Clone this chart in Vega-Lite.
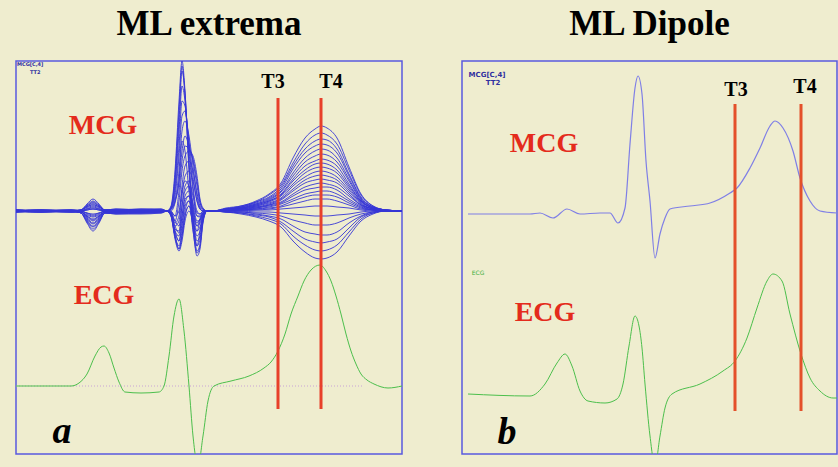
{
"$schema": "https://vega.github.io/schema/vega-lite/v6.json",
"background": "#efedcf",
"padding": {"left": 14, "top": 6, "right": 1, "bottom": 14},
"spacing": 58,
"config": {"view": {"stroke": "#5a5ae0", "strokeWidth": 1.5, "fill": "#efedcf"}},
"datasets": {
"mcgA": [
{"c":1,"x":0,"v":0},{"c":1,"x":25,"v":1},{"c":1,"x":55,"v":0},{"c":1,"x":65,"v":1},{"c":1,"x":71,"v":5},{"c":1,"x":77,"v":8},{"c":1,"x":83,"v":5},{"c":1,"x":89,"v":1},{"c":1,"x":100,"v":2},{"c":1,"x":125,"v":1},{"c":1,"x":145,"v":0},{"c":1,"x":151,"v":0},{"c":1,"x":155,"v":5},{"c":1,"x":159,"v":40},{"c":1,"x":163,"v":110},{"c":1,"x":166,"v":150},{"c":1,"x":169,"v":120},{"c":1,"x":173,"v":40},{"c":1,"x":177,"v":-10},{"c":1,"x":181,"v":-20},{"c":1,"x":184,"v":-10},{"c":1,"x":187,"v":-3},{"c":1,"x":191,"v":0},{"c":1,"x":197,"v":0},{"c":1,"x":210,"v":3},{"c":1,"x":225,"v":5},{"c":1,"x":240,"v":10},{"c":1,"x":253,"v":17},{"c":1,"x":265,"v":28},{"c":1,"x":277,"v":53},{"c":1,"x":289,"v":73},{"c":1,"x":299,"v":82},{"c":1,"x":305,"v":85},{"c":1,"x":311,"v":83},{"c":1,"x":321,"v":73},{"c":1,"x":333,"v":44},{"c":1,"x":345,"v":17},{"c":1,"x":357,"v":5},{"c":1,"x":370,"v":1},{"c":1,"x":386,"v":0},
{"c":2,"x":0,"v":1},{"c":2,"x":25,"v":0},{"c":2,"x":55,"v":-1},{"c":2,"x":65,"v":1},{"c":2,"x":71,"v":7},{"c":2,"x":77,"v":12},{"c":2,"x":83,"v":7},{"c":2,"x":89,"v":1},{"c":2,"x":100,"v":1},{"c":2,"x":125,"v":2},{"c":2,"x":145,"v":1},{"c":2,"x":151,"v":0},{"c":2,"x":155,"v":4},{"c":2,"x":159,"v":35},{"c":2,"x":163,"v":100},{"c":2,"x":166,"v":145},{"c":2,"x":169,"v":115},{"c":2,"x":173,"v":45},{"c":2,"x":177,"v":0},{"c":2,"x":181,"v":-15},{"c":2,"x":184,"v":-8},{"c":2,"x":187,"v":-2},{"c":2,"x":191,"v":0},{"c":2,"x":197,"v":0},{"c":2,"x":210,"v":2},{"c":2,"x":225,"v":4},{"c":2,"x":240,"v":9},{"c":2,"x":253,"v":14},{"c":2,"x":265,"v":24},{"c":2,"x":277,"v":45},{"c":2,"x":289,"v":62},{"c":2,"x":299,"v":70},{"c":2,"x":305,"v":72},{"c":2,"x":311,"v":71},{"c":2,"x":321,"v":62},{"c":2,"x":333,"v":37},{"c":2,"x":345,"v":14},{"c":2,"x":357,"v":4},{"c":2,"x":370,"v":1},{"c":2,"x":386,"v":0},
{"c":3,"x":0,"v":-1},{"c":3,"x":25,"v":0},{"c":3,"x":55,"v":1},{"c":3,"x":65,"v":0},{"c":3,"x":71,"v":3},{"c":3,"x":77,"v":5},{"c":3,"x":83,"v":3},{"c":3,"x":89,"v":0},{"c":3,"x":100,"v":0},{"c":3,"x":125,"v":1},{"c":3,"x":145,"v":2},{"c":3,"x":151,"v":0},{"c":3,"x":155,"v":3},{"c":3,"x":159,"v":25},{"c":3,"x":163,"v":80},{"c":3,"x":166,"v":125},{"c":3,"x":169,"v":110},{"c":3,"x":173,"v":60},{"c":3,"x":177,"v":20},{"c":3,"x":181,"v":-5},{"c":3,"x":184,"v":-5},{"c":3,"x":187,"v":0},{"c":3,"x":191,"v":0},{"c":3,"x":197,"v":0},{"c":3,"x":210,"v":2},{"c":3,"x":225,"v":4},{"c":3,"x":240,"v":7},{"c":3,"x":253,"v":12},{"c":3,"x":265,"v":20},{"c":3,"x":277,"v":38},{"c":3,"x":289,"v":53},{"c":3,"x":299,"v":60},{"c":3,"x":305,"v":62},{"c":3,"x":311,"v":61},{"c":3,"x":321,"v":53},{"c":3,"x":333,"v":32},{"c":3,"x":345,"v":12},{"c":3,"x":357,"v":4},{"c":3,"x":370,"v":1},{"c":3,"x":386,"v":0},
{"c":4,"x":0,"v":0},{"c":4,"x":25,"v":-1},{"c":4,"x":55,"v":0},{"c":4,"x":65,"v":0},{"c":4,"x":71,"v":-3},{"c":4,"x":77,"v":-5},{"c":4,"x":83,"v":-3},{"c":4,"x":89,"v":0},{"c":4,"x":100,"v":-1},{"c":4,"x":125,"v":0},{"c":4,"x":145,"v":1},{"c":4,"x":151,"v":0},{"c":4,"x":155,"v":2},{"c":4,"x":159,"v":15},{"c":4,"x":163,"v":55},{"c":4,"x":166,"v":95},{"c":4,"x":169,"v":100},{"c":4,"x":173,"v":70},{"c":4,"x":177,"v":35},{"c":4,"x":181,"v":10},{"c":4,"x":184,"v":2},{"c":4,"x":187,"v":0},{"c":4,"x":191,"v":0},{"c":4,"x":197,"v":0},{"c":4,"x":210,"v":2},{"c":4,"x":225,"v":3},{"c":4,"x":240,"v":6},{"c":4,"x":253,"v":10},{"c":4,"x":265,"v":17},{"c":4,"x":277,"v":32},{"c":4,"x":289,"v":45},{"c":4,"x":299,"v":50},{"c":4,"x":305,"v":52},{"c":4,"x":311,"v":51},{"c":4,"x":321,"v":45},{"c":4,"x":333,"v":27},{"c":4,"x":345,"v":10},{"c":4,"x":357,"v":3},{"c":4,"x":370,"v":1},{"c":4,"x":386,"v":0},
{"c":5,"x":0,"v":1},{"c":5,"x":25,"v":1},{"c":5,"x":55,"v":0},{"c":5,"x":65,"v":1},{"c":5,"x":71,"v":6},{"c":5,"x":77,"v":10},{"c":5,"x":83,"v":6},{"c":5,"x":89,"v":1},{"c":5,"x":100,"v":1},{"c":5,"x":125,"v":2},{"c":5,"x":145,"v":2},{"c":5,"x":151,"v":0},{"c":5,"x":155,"v":0},{"c":5,"x":159,"v":8},{"c":5,"x":163,"v":30},{"c":5,"x":166,"v":60},{"c":5,"x":169,"v":75},{"c":5,"x":173,"v":65},{"c":5,"x":177,"v":50},{"c":5,"x":181,"v":25},{"c":5,"x":184,"v":8},{"c":5,"x":187,"v":2},{"c":5,"x":191,"v":0},{"c":5,"x":197,"v":0},{"c":5,"x":210,"v":1},{"c":5,"x":225,"v":3},{"c":5,"x":240,"v":5},{"c":5,"x":253,"v":9},{"c":5,"x":265,"v":15},{"c":5,"x":277,"v":27},{"c":5,"x":289,"v":38},{"c":5,"x":299,"v":43},{"c":5,"x":305,"v":44},{"c":5,"x":311,"v":43},{"c":5,"x":321,"v":38},{"c":5,"x":333,"v":23},{"c":5,"x":345,"v":9},{"c":5,"x":357,"v":3},{"c":5,"x":370,"v":0},{"c":5,"x":386,"v":0},
{"c":6,"x":0,"v":-1},{"c":6,"x":25,"v":0},{"c":6,"x":55,"v":-1},{"c":6,"x":65,"v":-1},{"c":6,"x":71,"v":-6},{"c":6,"x":77,"v":-10},{"c":6,"x":83,"v":-6},{"c":6,"x":89,"v":-1},{"c":6,"x":100,"v":-2},{"c":6,"x":125,"v":-1},{"c":6,"x":145,"v":0},{"c":6,"x":151,"v":0},{"c":6,"x":155,"v":-2},{"c":6,"x":159,"v":-10},{"c":6,"x":163,"v":10},{"c":6,"x":166,"v":40},{"c":6,"x":169,"v":55},{"c":6,"x":173,"v":60},{"c":6,"x":177,"v":55},{"c":6,"x":181,"v":35},{"c":6,"x":184,"v":12},{"c":6,"x":187,"v":3},{"c":6,"x":191,"v":0},{"c":6,"x":197,"v":0},{"c":6,"x":210,"v":1},{"c":6,"x":225,"v":2},{"c":6,"x":240,"v":4},{"c":6,"x":253,"v":7},{"c":6,"x":265,"v":12},{"c":6,"x":277,"v":22},{"c":6,"x":289,"v":31},{"c":6,"x":299,"v":35},{"c":6,"x":305,"v":36},{"c":6,"x":311,"v":35},{"c":6,"x":321,"v":31},{"c":6,"x":333,"v":19},{"c":6,"x":345,"v":7},{"c":6,"x":357,"v":2},{"c":6,"x":370,"v":0},{"c":6,"x":386,"v":0},
{"c":7,"x":0,"v":0},{"c":7,"x":25,"v":0},{"c":7,"x":55,"v":1},{"c":7,"x":65,"v":0},{"c":7,"x":71,"v":2},{"c":7,"x":77,"v":3},{"c":7,"x":83,"v":2},{"c":7,"x":89,"v":0},{"c":7,"x":100,"v":0},{"c":7,"x":125,"v":0},{"c":7,"x":145,"v":-1},{"c":7,"x":151,"v":0},{"c":7,"x":155,"v":-3},{"c":7,"x":159,"v":-15},{"c":7,"x":163,"v":-10},{"c":7,"x":166,"v":15},{"c":7,"x":169,"v":35},{"c":7,"x":173,"v":40},{"c":7,"x":177,"v":30},{"c":7,"x":181,"v":10},{"c":7,"x":184,"v":2},{"c":7,"x":187,"v":0},{"c":7,"x":191,"v":0},{"c":7,"x":197,"v":0},{"c":7,"x":210,"v":1},{"c":7,"x":225,"v":2},{"c":7,"x":240,"v":3},{"c":7,"x":253,"v":6},{"c":7,"x":265,"v":9},{"c":7,"x":277,"v":17},{"c":7,"x":289,"v":24},{"c":7,"x":299,"v":27},{"c":7,"x":305,"v":28},{"c":7,"x":311,"v":27},{"c":7,"x":321,"v":24},{"c":7,"x":333,"v":15},{"c":7,"x":345,"v":6},{"c":7,"x":357,"v":2},{"c":7,"x":370,"v":0},{"c":7,"x":386,"v":0},
{"c":8,"x":0,"v":1},{"c":8,"x":25,"v":-1},{"c":8,"x":55,"v":0},{"c":8,"x":65,"v":-2},{"c":8,"x":71,"v":-9},{"c":8,"x":77,"v":-15},{"c":8,"x":83,"v":-9},{"c":8,"x":89,"v":-2},{"c":8,"x":100,"v":-2},{"c":8,"x":125,"v":-2},{"c":8,"x":145,"v":-1},{"c":8,"x":151,"v":0},{"c":8,"x":155,"v":-4},{"c":8,"x":159,"v":-20},{"c":8,"x":163,"v":-25},{"c":8,"x":166,"v":-5},{"c":8,"x":169,"v":15},{"c":8,"x":173,"v":20},{"c":8,"x":177,"v":8},{"c":8,"x":181,"v":-5},{"c":8,"x":184,"v":-6},{"c":8,"x":187,"v":-2},{"c":8,"x":191,"v":0},{"c":8,"x":197,"v":0},{"c":8,"x":210,"v":1},{"c":8,"x":225,"v":1},{"c":8,"x":240,"v":2},{"c":8,"x":253,"v":4},{"c":8,"x":265,"v":7},{"c":8,"x":277,"v":12},{"c":8,"x":289,"v":17},{"c":8,"x":299,"v":19},{"c":8,"x":305,"v":20},{"c":8,"x":311,"v":20},{"c":8,"x":321,"v":17},{"c":8,"x":333,"v":10},{"c":8,"x":345,"v":4},{"c":8,"x":357,"v":1},{"c":8,"x":370,"v":0},{"c":8,"x":386,"v":0},
{"c":9,"x":0,"v":0},{"c":9,"x":25,"v":1},{"c":9,"x":55,"v":1},{"c":9,"x":65,"v":1},{"c":9,"x":71,"v":4},{"c":9,"x":77,"v":6},{"c":9,"x":83,"v":4},{"c":9,"x":89,"v":1},{"c":9,"x":100,"v":1},{"c":9,"x":125,"v":0},{"c":9,"x":145,"v":1},{"c":9,"x":151,"v":0},{"c":9,"x":155,"v":-5},{"c":9,"x":159,"v":-25},{"c":9,"x":163,"v":-35},{"c":9,"x":166,"v":-20},{"c":9,"x":169,"v":0},{"c":9,"x":173,"v":10},{"c":9,"x":177,"v":0},{"c":9,"x":181,"v":-15},{"c":9,"x":184,"v":-12},{"c":9,"x":187,"v":-4},{"c":9,"x":191,"v":0},{"c":9,"x":197,"v":0},{"c":9,"x":210,"v":0},{"c":9,"x":225,"v":1},{"c":9,"x":240,"v":1},{"c":9,"x":253,"v":2},{"c":9,"x":265,"v":4},{"c":9,"x":277,"v":7},{"c":9,"x":289,"v":10},{"c":9,"x":299,"v":12},{"c":9,"x":305,"v":12},{"c":9,"x":311,"v":12},{"c":9,"x":321,"v":10},{"c":9,"x":333,"v":6},{"c":9,"x":345,"v":2},{"c":9,"x":357,"v":1},{"c":9,"x":370,"v":0},{"c":9,"x":386,"v":0},
{"c":10,"x":0,"v":-1},{"c":10,"x":25,"v":-1},{"c":10,"x":55,"v":0},{"c":10,"x":65,"v":-2},{"c":10,"x":71,"v":-11},{"c":10,"x":77,"v":-18},{"c":10,"x":83,"v":-11},{"c":10,"x":89,"v":-2},{"c":10,"x":100,"v":-3},{"c":10,"x":125,"v":-2},{"c":10,"x":145,"v":-2},{"c":10,"x":151,"v":0},{"c":10,"x":155,"v":-5},{"c":10,"x":159,"v":-28},{"c":10,"x":163,"v":-40},{"c":10,"x":166,"v":-30},{"c":10,"x":169,"v":-10},{"c":10,"x":173,"v":0},{"c":10,"x":177,"v":-10},{"c":10,"x":181,"v":-25},{"c":10,"x":184,"v":-20},{"c":10,"x":187,"v":-6},{"c":10,"x":191,"v":0},{"c":10,"x":197,"v":0},{"c":10,"x":210,"v":0},{"c":10,"x":225,"v":0},{"c":10,"x":240,"v":1},{"c":10,"x":253,"v":1},{"c":10,"x":265,"v":2},{"c":10,"x":277,"v":3},{"c":10,"x":289,"v":4},{"c":10,"x":299,"v":5},{"c":10,"x":305,"v":5},{"c":10,"x":311,"v":5},{"c":10,"x":321,"v":4},{"c":10,"x":333,"v":3},{"c":10,"x":345,"v":1},{"c":10,"x":357,"v":0},{"c":10,"x":370,"v":0},{"c":10,"x":386,"v":0},
{"c":11,"x":0,"v":0},{"c":11,"x":25,"v":0},{"c":11,"x":55,"v":-1},{"c":11,"x":65,"v":-1},{"c":11,"x":71,"v":-5},{"c":11,"x":77,"v":-8},{"c":11,"x":83,"v":-5},{"c":11,"x":89,"v":-1},{"c":11,"x":100,"v":-1},{"c":11,"x":125,"v":-1},{"c":11,"x":145,"v":0},{"c":11,"x":151,"v":0},{"c":11,"x":155,"v":-4},{"c":11,"x":159,"v":-25},{"c":11,"x":163,"v":-38},{"c":11,"x":166,"v":-25},{"c":11,"x":169,"v":-5},{"c":11,"x":173,"v":5},{"c":11,"x":177,"v":-15},{"c":11,"x":181,"v":-35},{"c":11,"x":184,"v":-28},{"c":11,"x":187,"v":-8},{"c":11,"x":191,"v":0},{"c":11,"x":197,"v":0},{"c":11,"x":210,"v":0},{"c":11,"x":225,"v":0},{"c":11,"x":240,"v":-1},{"c":11,"x":253,"v":-1},{"c":11,"x":265,"v":-2},{"c":11,"x":277,"v":-3},{"c":11,"x":289,"v":-4},{"c":11,"x":299,"v":-5},{"c":11,"x":305,"v":-5},{"c":11,"x":311,"v":-5},{"c":11,"x":321,"v":-4},{"c":11,"x":333,"v":-3},{"c":11,"x":345,"v":-1},{"c":11,"x":357,"v":0},{"c":11,"x":370,"v":0},{"c":11,"x":386,"v":0},
{"c":12,"x":0,"v":1},{"c":12,"x":25,"v":0},{"c":12,"x":55,"v":0},{"c":12,"x":65,"v":-2},{"c":12,"x":71,"v":-12},{"c":12,"x":77,"v":-20},{"c":12,"x":83,"v":-12},{"c":12,"x":89,"v":-2},{"c":12,"x":100,"v":-3},{"c":12,"x":125,"v":-3},{"c":12,"x":145,"v":-2},{"c":12,"x":151,"v":0},{"c":12,"x":155,"v":-3},{"c":12,"x":159,"v":-20},{"c":12,"x":163,"v":-30},{"c":12,"x":166,"v":-15},{"c":12,"x":169,"v":5},{"c":12,"x":173,"v":10},{"c":12,"x":177,"v":-20},{"c":12,"x":181,"v":-42},{"c":12,"x":184,"v":-35},{"c":12,"x":187,"v":-10},{"c":12,"x":191,"v":0},{"c":12,"x":197,"v":0},{"c":12,"x":210,"v":0},{"c":12,"x":225,"v":-1},{"c":12,"x":240,"v":-2},{"c":12,"x":253,"v":-3},{"c":12,"x":265,"v":-5},{"c":12,"x":277,"v":-9},{"c":12,"x":289,"v":-12},{"c":12,"x":299,"v":-14},{"c":12,"x":305,"v":-14},{"c":12,"x":311,"v":-14},{"c":12,"x":321,"v":-12},{"c":12,"x":333,"v":-7},{"c":12,"x":345,"v":-3},{"c":12,"x":357,"v":-1},{"c":12,"x":370,"v":0},{"c":12,"x":386,"v":0},
{"c":13,"x":0,"v":-1},{"c":13,"x":25,"v":1},{"c":13,"x":55,"v":0},{"c":13,"x":65,"v":0},{"c":13,"x":71,"v":1},{"c":13,"x":77,"v":2},{"c":13,"x":83,"v":1},{"c":13,"x":89,"v":0},{"c":13,"x":100,"v":0},{"c":13,"x":125,"v":1},{"c":13,"x":145,"v":0},{"c":13,"x":151,"v":0},{"c":13,"x":155,"v":-2},{"c":13,"x":159,"v":-15},{"c":13,"x":163,"v":-22},{"c":13,"x":166,"v":-5},{"c":13,"x":169,"v":12},{"c":13,"x":173,"v":15},{"c":13,"x":177,"v":-18},{"c":13,"x":181,"v":-45},{"c":13,"x":184,"v":-38},{"c":13,"x":187,"v":-12},{"c":13,"x":191,"v":0},{"c":13,"x":197,"v":0},{"c":13,"x":210,"v":-1},{"c":13,"x":225,"v":-1},{"c":13,"x":240,"v":-3},{"c":13,"x":253,"v":-5},{"c":13,"x":265,"v":-8},{"c":13,"x":277,"v":-15},{"c":13,"x":289,"v":-21},{"c":13,"x":299,"v":-23},{"c":13,"x":305,"v":-24},{"c":13,"x":311,"v":-24},{"c":13,"x":321,"v":-21},{"c":13,"x":333,"v":-12},{"c":13,"x":345,"v":-5},{"c":13,"x":357,"v":-1},{"c":13,"x":370,"v":0},{"c":13,"x":386,"v":0},
{"c":14,"x":0,"v":0},{"c":14,"x":25,"v":-1},{"c":14,"x":55,"v":-1},{"c":14,"x":65,"v":-1},{"c":14,"x":71,"v":-7},{"c":14,"x":77,"v":-12},{"c":14,"x":83,"v":-7},{"c":14,"x":89,"v":-1},{"c":14,"x":100,"v":-2},{"c":14,"x":125,"v":-1},{"c":14,"x":145,"v":-1},{"c":14,"x":151,"v":0},{"c":14,"x":155,"v":-1},{"c":14,"x":159,"v":-10},{"c":14,"x":163,"v":-15},{"c":14,"x":166,"v":5},{"c":14,"x":169,"v":20},{"c":14,"x":173,"v":25},{"c":14,"x":177,"v":-10},{"c":14,"x":181,"v":-40},{"c":14,"x":184,"v":-33},{"c":14,"x":187,"v":-10},{"c":14,"x":191,"v":0},{"c":14,"x":197,"v":0},{"c":14,"x":210,"v":-1},{"c":14,"x":225,"v":-2},{"c":14,"x":240,"v":-4},{"c":14,"x":253,"v":-6},{"c":14,"x":265,"v":-11},{"c":14,"x":277,"v":-20},{"c":14,"x":289,"v":-28},{"c":14,"x":299,"v":-31},{"c":14,"x":305,"v":-32},{"c":14,"x":311,"v":-31},{"c":14,"x":321,"v":-28},{"c":14,"x":333,"v":-17},{"c":14,"x":345,"v":-6},{"c":14,"x":357,"v":-2},{"c":14,"x":370,"v":0},{"c":14,"x":386,"v":0},
{"c":15,"x":0,"v":1},{"c":15,"x":25,"v":0},{"c":15,"x":55,"v":1},{"c":15,"x":65,"v":0},{"c":15,"x":71,"v":-2},{"c":15,"x":77,"v":-4},{"c":15,"x":83,"v":-2},{"c":15,"x":89,"v":0},{"c":15,"x":100,"v":0},{"c":15,"x":125,"v":-1},{"c":15,"x":145,"v":0},{"c":15,"x":151,"v":0},{"c":15,"x":155,"v":0},{"c":15,"x":159,"v":-5},{"c":15,"x":163,"v":0},{"c":15,"x":166,"v":20},{"c":15,"x":169,"v":30},{"c":15,"x":173,"v":25},{"c":15,"x":177,"v":-5},{"c":15,"x":181,"v":-30},{"c":15,"x":184,"v":-25},{"c":15,"x":187,"v":-8},{"c":15,"x":191,"v":0},{"c":15,"x":197,"v":0},{"c":15,"x":210,"v":-1},{"c":15,"x":225,"v":-2},{"c":15,"x":240,"v":-5},{"c":15,"x":253,"v":-8},{"c":15,"x":265,"v":-13},{"c":15,"x":277,"v":-25},{"c":15,"x":289,"v":-34},{"c":15,"x":299,"v":-39},{"c":15,"x":305,"v":-40},{"c":15,"x":311,"v":-39},{"c":15,"x":321,"v":-34},{"c":15,"x":333,"v":-21},{"c":15,"x":345,"v":-8},{"c":15,"x":357,"v":-2},{"c":15,"x":370,"v":0},{"c":15,"x":386,"v":0},
{"c":16,"x":0,"v":0},{"c":16,"x":25,"v":-1},{"c":16,"x":55,"v":0},{"c":16,"x":65,"v":-2},{"c":16,"x":71,"v":-10},{"c":16,"x":77,"v":-16},{"c":16,"x":83,"v":-10},{"c":16,"x":89,"v":-2},{"c":16,"x":100,"v":-2},{"c":16,"x":125,"v":-2},{"c":16,"x":145,"v":-1},{"c":16,"x":151,"v":0},{"c":16,"x":155,"v":2},{"c":16,"x":159,"v":10},{"c":16,"x":163,"v":30},{"c":16,"x":166,"v":70},{"c":16,"x":169,"v":60},{"c":16,"x":173,"v":20},{"c":16,"x":177,"v":-10},{"c":16,"x":181,"v":-35},{"c":16,"x":184,"v":-20},{"c":16,"x":187,"v":-5},{"c":16,"x":191,"v":0},{"c":16,"x":197,"v":0},{"c":16,"x":210,"v":-1},{"c":16,"x":225,"v":-3},{"c":16,"x":240,"v":-6},{"c":16,"x":253,"v":-10},{"c":16,"x":265,"v":-16},{"c":16,"x":277,"v":-30},{"c":16,"x":289,"v":-41},{"c":16,"x":299,"v":-47},{"c":16,"x":305,"v":-48},{"c":16,"x":311,"v":-47},{"c":16,"x":321,"v":-41},{"c":16,"x":333,"v":-25},{"c":16,"x":345,"v":-10},{"c":16,"x":357,"v":-3},{"c":16,"x":370,"v":0},{"c":16,"x":386,"v":0},
{"c":17,"x":0,"v":0},{"c":17,"x":25,"v":0},{"c":17,"x":55,"v":1},{"c":17,"x":65,"v":0},{"c":17,"x":71,"v":2},{"c":17,"x":77,"v":4},{"c":17,"x":83,"v":2},{"c":17,"x":89,"v":0},{"c":17,"x":100,"v":1},{"c":17,"x":125,"v":0},{"c":17,"x":145,"v":1},{"c":17,"x":151,"v":0},{"c":17,"x":155,"v":3},{"c":17,"x":159,"v":30},{"c":17,"x":163,"v":90},{"c":17,"x":166,"v":140},{"c":17,"x":169,"v":118},{"c":17,"x":173,"v":50},{"c":17,"x":177,"v":5},{"c":17,"x":181,"v":-12},{"c":17,"x":184,"v":-8},{"c":17,"x":187,"v":-2},{"c":17,"x":191,"v":0},{"c":17,"x":197,"v":0},{"c":17,"x":210,"v":2},{"c":17,"x":225,"v":5},{"c":17,"x":240,"v":9},{"c":17,"x":253,"v":16},{"c":17,"x":265,"v":26},{"c":17,"x":277,"v":48},{"c":17,"x":289,"v":67},{"c":17,"x":299,"v":76},{"c":17,"x":305,"v":78},{"c":17,"x":311,"v":76},{"c":17,"x":321,"v":67},{"c":17,"x":333,"v":41},{"c":17,"x":345,"v":16},{"c":17,"x":357,"v":5},{"c":17,"x":370,"v":1},{"c":17,"x":386,"v":0},
{"c":18,"x":0,"v":1},{"c":18,"x":25,"v":0},{"c":18,"x":55,"v":0},{"c":18,"x":65,"v":-1},{"c":18,"x":71,"v":-4},{"c":18,"x":77,"v":-6},{"c":18,"x":83,"v":-4},{"c":18,"x":89,"v":-1},{"c":18,"x":100,"v":-1},{"c":18,"x":125,"v":0},{"c":18,"x":145,"v":0},{"c":18,"x":151,"v":0},{"c":18,"x":155,"v":2},{"c":18,"x":159,"v":20},{"c":18,"x":163,"v":65},{"c":18,"x":166,"v":110},{"c":18,"x":169,"v":105},{"c":18,"x":173,"v":65},{"c":18,"x":177,"v":25},{"c":18,"x":181,"v":0},{"c":18,"x":184,"v":-3},{"c":18,"x":187,"v":0},{"c":18,"x":191,"v":0},{"c":18,"x":197,"v":0},{"c":18,"x":210,"v":2},{"c":18,"x":225,"v":4},{"c":18,"x":240,"v":8},{"c":18,"x":253,"v":13},{"c":18,"x":265,"v":22},{"c":18,"x":277,"v":42},{"c":18,"x":289,"v":58},{"c":18,"x":299,"v":65},{"c":18,"x":305,"v":67},{"c":18,"x":311,"v":66},{"c":18,"x":321,"v":58},{"c":18,"x":333,"v":35},{"c":18,"x":345,"v":13},{"c":18,"x":357,"v":4},{"c":18,"x":370,"v":1},{"c":18,"x":386,"v":0},
{"c":19,"x":0,"v":0},{"c":19,"x":25,"v":1},{"c":19,"x":55,"v":0},{"c":19,"x":65,"v":1},{"c":19,"x":71,"v":5},{"c":19,"x":77,"v":9},{"c":19,"x":83,"v":5},{"c":19,"x":89,"v":1},{"c":19,"x":100,"v":2},{"c":19,"x":125,"v":1},{"c":19,"x":145,"v":1},{"c":19,"x":151,"v":0},{"c":19,"x":155,"v":1},{"c":19,"x":159,"v":10},{"c":19,"x":163,"v":40},{"c":19,"x":166,"v":80},{"c":19,"x":169,"v":90},{"c":19,"x":173,"v":75},{"c":19,"x":177,"v":45},{"c":19,"x":181,"v":15},{"c":19,"x":184,"v":3},{"c":19,"x":187,"v":0},{"c":19,"x":191,"v":0},{"c":19,"x":197,"v":0},{"c":19,"x":210,"v":2},{"c":19,"x":225,"v":3},{"c":19,"x":240,"v":7},{"c":19,"x":253,"v":11},{"c":19,"x":265,"v":19},{"c":19,"x":277,"v":35},{"c":19,"x":289,"v":49},{"c":19,"x":299,"v":55},{"c":19,"x":305,"v":57},{"c":19,"x":311,"v":56},{"c":19,"x":321,"v":49},{"c":19,"x":333,"v":30},{"c":19,"x":345,"v":11},{"c":19,"x":357,"v":3},{"c":19,"x":370,"v":1},{"c":19,"x":386,"v":0},
{"c":20,"x":0,"v":-1},{"c":20,"x":25,"v":0},{"c":20,"x":55,"v":0},{"c":20,"x":65,"v":0},{"c":20,"x":71,"v":-2},{"c":20,"x":77,"v":-3},{"c":20,"x":83,"v":-2},{"c":20,"x":89,"v":0},{"c":20,"x":100,"v":0},{"c":20,"x":125,"v":-1},{"c":20,"x":145,"v":0},{"c":20,"x":151,"v":0},{"c":20,"x":155,"v":-1},{"c":20,"x":159,"v":-5},{"c":20,"x":163,"v":20},{"c":20,"x":166,"v":50},{"c":20,"x":169,"v":65},{"c":20,"x":173,"v":62},{"c":20,"x":177,"v":52},{"c":20,"x":181,"v":30},{"c":20,"x":184,"v":10},{"c":20,"x":187,"v":2},{"c":20,"x":191,"v":0},{"c":20,"x":197,"v":0},{"c":20,"x":210,"v":1},{"c":20,"x":225,"v":3},{"c":20,"x":240,"v":6},{"c":20,"x":253,"v":10},{"c":20,"x":265,"v":16},{"c":20,"x":277,"v":30},{"c":20,"x":289,"v":41},{"c":20,"x":299,"v":47},{"c":20,"x":305,"v":48},{"c":20,"x":311,"v":47},{"c":20,"x":321,"v":41},{"c":20,"x":333,"v":25},{"c":20,"x":345,"v":10},{"c":20,"x":357,"v":3},{"c":20,"x":370,"v":0},{"c":20,"x":386,"v":0},
{"c":21,"x":0,"v":0},{"c":21,"x":25,"v":1},{"c":21,"x":55,"v":0},{"c":21,"x":65,"v":1},{"c":21,"x":71,"v":4},{"c":21,"x":77,"v":7},{"c":21,"x":83,"v":4},{"c":21,"x":89,"v":1},{"c":21,"x":100,"v":1},{"c":21,"x":125,"v":1},{"c":21,"x":145,"v":0},{"c":21,"x":151,"v":0},{"c":21,"x":155,"v":-2},{"c":21,"x":159,"v":-12},{"c":21,"x":163,"v":-5},{"c":21,"x":166,"v":25},{"c":21,"x":169,"v":45},{"c":21,"x":173,"v":50},{"c":21,"x":177,"v":40},{"c":21,"x":181,"v":18},{"c":21,"x":184,"v":5},{"c":21,"x":187,"v":1},{"c":21,"x":191,"v":0},{"c":21,"x":197,"v":0},{"c":21,"x":210,"v":1},{"c":21,"x":225,"v":2},{"c":21,"x":240,"v":5},{"c":21,"x":253,"v":8},{"c":21,"x":265,"v":13},{"c":21,"x":277,"v":25},{"c":21,"x":289,"v":34},{"c":21,"x":299,"v":39},{"c":21,"x":305,"v":40},{"c":21,"x":311,"v":39},{"c":21,"x":321,"v":34},{"c":21,"x":333,"v":21},{"c":21,"x":345,"v":8},{"c":21,"x":357,"v":2},{"c":21,"x":370,"v":0},{"c":21,"x":386,"v":0},
{"c":22,"x":0,"v":0},{"c":22,"x":25,"v":-1},{"c":22,"x":55,"v":0},{"c":22,"x":65,"v":-1},{"c":22,"x":71,"v":-5},{"c":22,"x":77,"v":-9},{"c":22,"x":83,"v":-5},{"c":22,"x":89,"v":-1},{"c":22,"x":100,"v":-1},{"c":22,"x":125,"v":-2},{"c":22,"x":145,"v":-1},{"c":22,"x":151,"v":0},{"c":22,"x":155,"v":-3},{"c":22,"x":159,"v":-18},{"c":22,"x":163,"v":-20},{"c":22,"x":166,"v":5},{"c":22,"x":169,"v":25},{"c":22,"x":173,"v":30},{"c":22,"x":177,"v":15},{"c":22,"x":181,"v":-2},{"c":22,"x":184,"v":-3},{"c":22,"x":187,"v":-1},{"c":22,"x":191,"v":0},{"c":22,"x":197,"v":0},{"c":22,"x":210,"v":1},{"c":22,"x":225,"v":2},{"c":22,"x":240,"v":4},{"c":22,"x":253,"v":6},{"c":22,"x":265,"v":11},{"c":22,"x":277,"v":20},{"c":22,"x":289,"v":28},{"c":22,"x":299,"v":31},{"c":22,"x":305,"v":32},{"c":22,"x":311,"v":31},{"c":22,"x":321,"v":28},{"c":22,"x":333,"v":17},{"c":22,"x":345,"v":6},{"c":22,"x":357,"v":2},{"c":22,"x":370,"v":0},{"c":22,"x":386,"v":0},
{"c":23,"x":0,"v":1},{"c":23,"x":25,"v":0},{"c":23,"x":55,"v":0},{"c":23,"x":65,"v":0},{"c":23,"x":71,"v":1},{"c":23,"x":77,"v":2},{"c":23,"x":83,"v":1},{"c":23,"x":89,"v":0},{"c":23,"x":100,"v":0},{"c":23,"x":125,"v":0},{"c":23,"x":145,"v":1},{"c":23,"x":151,"v":0},{"c":23,"x":155,"v":-4},{"c":23,"x":159,"v":-22},{"c":23,"x":163,"v":-30},{"c":23,"x":166,"v":-12},{"c":23,"x":169,"v":8},{"c":23,"x":173,"v":15},{"c":23,"x":177,"v":5},{"c":23,"x":181,"v":-10},{"c":23,"x":184,"v":-9},{"c":23,"x":187,"v":-3},{"c":23,"x":191,"v":0},{"c":23,"x":197,"v":0},{"c":23,"x":210,"v":1},{"c":23,"x":225,"v":1},{"c":23,"x":240,"v":3},{"c":23,"x":253,"v":5},{"c":23,"x":265,"v":8},{"c":23,"x":277,"v":15},{"c":23,"x":289,"v":21},{"c":23,"x":299,"v":23},{"c":23,"x":305,"v":24},{"c":23,"x":311,"v":24},{"c":23,"x":321,"v":21},{"c":23,"x":333,"v":12},{"c":23,"x":345,"v":5},{"c":23,"x":357,"v":1},{"c":23,"x":370,"v":0},{"c":23,"x":386,"v":0},
{"c":24,"x":0,"v":0},{"c":24,"x":25,"v":0},{"c":24,"x":55,"v":-1},{"c":24,"x":65,"v":-1},{"c":24,"x":71,"v":-8},{"c":24,"x":77,"v":-13},{"c":24,"x":83,"v":-8},{"c":24,"x":89,"v":-1},{"c":24,"x":100,"v":-2},{"c":24,"x":125,"v":-1},{"c":24,"x":145,"v":-1},{"c":24,"x":151,"v":0},{"c":24,"x":155,"v":-5},{"c":24,"x":159,"v":-26},{"c":24,"x":163,"v":-38},{"c":24,"x":166,"v":-25},{"c":24,"x":169,"v":-5},{"c":24,"x":173,"v":5},{"c":24,"x":177,"v":-5},{"c":24,"x":181,"v":-20},{"c":24,"x":184,"v":-16},{"c":24,"x":187,"v":-5},{"c":24,"x":191,"v":0},{"c":24,"x":197,"v":0},{"c":24,"x":210,"v":0},{"c":24,"x":225,"v":1},{"c":24,"x":240,"v":2},{"c":24,"x":253,"v":3},{"c":24,"x":265,"v":5},{"c":24,"x":277,"v":10},{"c":24,"x":289,"v":14},{"c":24,"x":299,"v":16},{"c":24,"x":305,"v":16},{"c":24,"x":311,"v":16},{"c":24,"x":321,"v":14},{"c":24,"x":333,"v":8},{"c":24,"x":345,"v":3},{"c":24,"x":357,"v":1},{"c":24,"x":370,"v":0},{"c":24,"x":386,"v":0}
],
"ecgA": [
{"x":0,"v":0},{"x":25,"v":0},{"x":55,"v":0},{"x":63,"v":3},{"x":71,"v":12},{"x":79,"v":30},{"x":85,"v":39},{"x":88,"v":40},{"x":93,"v":33},{"x":98,"v":18},{"x":103,"v":4},{"x":109,"v":-6},{"x":125,"v":-7},{"x":143,"v":-6},{"x":148,"v":0},{"x":153,"v":30},{"x":158,"v":70},{"x":163,"v":87},{"x":168,"v":55},{"x":173,"v":0},{"x":177,"v":-50},{"x":182,"v":-80},{"x":187,"v":-50},{"x":192,"v":-15},{"x":198,"v":0},{"x":215,"v":5},{"x":233,"v":10},{"x":248,"v":18},{"x":255,"v":24},{"x":262,"v":35},{"x":269,"v":52},{"x":275,"v":72},{"x":282,"v":90},{"x":288,"v":105},{"x":295,"v":116},{"x":304,"v":121},{"x":310,"v":115},{"x":315,"v":105},{"x":320,"v":90},{"x":325,"v":72},{"x":330,"v":52},{"x":335,"v":35},{"x":340,"v":22},{"x":345,"v":12},{"x":351,"v":6},{"x":358,"v":2},{"x":372,"v":-2},{"x":386,"v":0}
],
"mcgB": [
{"x":6,"v":0},{"x":68,"v":0},{"x":78,"v":1},{"x":91,"v":-4},{"x":105,"v":5},{"x":118,"v":0},{"x":138,"v":1},{"x":148,"v":1},{"x":156,"v":-9},{"x":163,"v":6},{"x":168,"v":70},{"x":173,"v":126},{"x":176,"v":138},{"x":180,"v":120},{"x":184,"v":53},{"x":188,"v":13},{"x":193,"v":-44},{"x":198,"v":-20},{"x":203,"v":-4},{"x":208,"v":5},{"x":228,"v":8},{"x":248,"v":11},{"x":268,"v":21},{"x":275,"v":26},{"x":288,"v":46},{"x":298,"v":66},{"x":308,"v":88},{"x":313,"v":93},{"x":321,"v":86},{"x":331,"v":63},{"x":338,"v":36},{"x":348,"v":13},{"x":358,"v":3},{"x":375,"v":1}
],
"ecgB": [
{"x":6,"v":2},{"x":68,"v":0},{"x":83,"v":12},{"x":95,"v":33},{"x":103,"v":42},{"x":110,"v":30},{"x":118,"v":5},{"x":126,"v":-5},{"x":143,"v":-7},{"x":155,"v":-3},{"x":161,"v":12},{"x":167,"v":50},{"x":173,"v":80},{"x":177,"v":70},{"x":180,"v":48},{"x":183,"v":12},{"x":188,"v":-40},{"x":193,"v":-70},{"x":198,"v":-40},{"x":203,"v":-12},{"x":210,"v":2},{"x":238,"v":12},{"x":261,"v":25},{"x":273,"v":35},{"x":285,"v":58},{"x":295,"v":88},{"x":305,"v":115},{"x":311,"v":122},{"x":320,"v":115},{"x":328,"v":82},{"x":339,"v":42},{"x":348,"v":18},{"x":358,"v":5},{"x":371,"v":-2},{"x":375,"v":-2}
]
},
"hconcat": [
{
"width": 386, "height": 393,
"title": {"text": "ML extrema", "font": "Liberation Serif", "fontSize": 35, "fontWeight": "bold", "color": "#000000", "offset": 19, "anchor": "middle"},
"resolve": {"scale": {"y": "independent"}},
"layer": [
{"data": {"name": "mcgA"}, "mark": {"type": "line", "color": "#3636d6", "strokeWidth": 0.9, "interpolate": "monotone", "clip": true},
 "encoding": {"x": {"field": "x", "type": "quantitative", "scale": {"domain": [0, 386], "nice": false}, "axis": null},
  "y": {"field": "v", "type": "quantitative", "scale": {"domain": [-243, 150], "nice": false, "zero": false}, "axis": null},
  "detail": {"field": "c"}}},
{"data": {"values": [{"x": 0, "x2": 347, "v": 0}]}, "mark": {"type": "rule", "color": "#c9a3d6", "strokeWidth": 1, "strokeDash": [1, 2]},
 "encoding": {"x": {"field": "x", "type": "quantitative", "scale": {"domain": [0, 386], "nice": false}, "axis": null}, "x2": {"field": "x2"},
  "y": {"field": "v", "type": "quantitative", "scale": {"domain": [-68, 325], "nice": false, "zero": false}, "axis": null}}},
{"data": {"name": "ecgA"}, "mark": {"type": "line", "color": "#4cbf4c", "strokeWidth": 1, "interpolate": "monotone", "clip": true},
 "encoding": {"x": {"field": "x", "type": "quantitative", "scale": {"domain": [0, 386], "nice": false}, "axis": null},
  "y": {"field": "v", "type": "quantitative", "scale": {"domain": [-68, 325], "nice": false, "zero": false}, "axis": null}}},
{"data": {"values": [{"line": "T3", "x": 262, "y": 113, "y2": -198}, {"line": "T4", "x": 305, "y": 113, "y2": -198}]}, "mark": {"type": "rule", "color": "#e8402a", "strokeWidth": 3},
 "encoding": {"x": {"field": "x", "type": "quantitative", "scale": {"domain": [0, 386], "nice": false}, "axis": null},
  "y": {"field": "y", "type": "quantitative", "scale": {"domain": [-243, 150], "nice": false, "zero": false}, "axis": null}, "y2": {"field": "y2"}}},
{"data": {"values": [{"label": "T3", "x": 257, "y": 123}, {"label": "T4", "x": 315, "y": 123}]}, "mark": {"type": "text", "font": "Liberation Serif", "fontSize": 20, "fontWeight": "bold", "color": "#000000", "align": "center", "baseline": "alphabetic"},
 "encoding": {"x": {"field": "x", "type": "quantitative", "scale": {"domain": [0, 386], "nice": false}, "axis": null},
  "y": {"field": "y", "type": "quantitative", "scale": {"domain": [-243, 150], "nice": false, "zero": false}, "axis": null}, "text": {"field": "label"}}},
{"data": {"values": [{"label": "MCG", "x": 87, "y": 77}, {"label": "ECG", "x": 88, "y": -93}]}, "mark": {"type": "text", "font": "Liberation Serif", "fontSize": 28, "fontWeight": "bold", "color": "#e42b1c", "align": "center", "baseline": "alphabetic"},
 "encoding": {"x": {"field": "x", "type": "quantitative", "scale": {"domain": [0, 386], "nice": false}, "axis": null},
  "y": {"field": "y", "type": "quantitative", "scale": {"domain": [-243, 150], "nice": false, "zero": false}, "axis": null}, "text": {"field": "label"}}},
{"data": {"values": [{"label": "a", "x": 46, "y": -232}]}, "mark": {"type": "text", "font": "Liberation Serif", "fontSize": 38, "fontWeight": "bold", "fontStyle": "italic", "color": "#000000", "align": "center", "baseline": "alphabetic"},
 "encoding": {"x": {"field": "x", "type": "quantitative", "scale": {"domain": [0, 386], "nice": false}, "axis": null},
  "y": {"field": "y", "type": "quantitative", "scale": {"domain": [-243, 150], "nice": false, "zero": false}, "axis": null}, "text": {"field": "label"}}},
{"data": {"values": [{"label": "MCG[C,4]", "x": 1, "y": 145}, {"label": "TT2", "x": 14, "y": 137}]}, "mark": {"type": "text", "font": "DejaVu Sans", "fontSize": 5, "fontWeight": "bold", "color": "#3030a0", "align": "left", "baseline": "alphabetic"},
 "encoding": {"x": {"field": "x", "type": "quantitative", "scale": {"domain": [0, 386], "nice": false}, "axis": null},
  "y": {"field": "y", "type": "quantitative", "scale": {"domain": [-243, 150], "nice": false, "zero": false}, "axis": null}, "text": {"field": "label"}}}
]
},
{
"width": 375, "height": 393,
"title": {"text": "ML Dipole", "font": "Liberation Serif", "fontSize": 35, "fontWeight": "bold", "color": "#000000", "offset": 19, "anchor": "middle"},
"resolve": {"scale": {"y": "independent"}},
"layer": [
{"data": {"name": "mcgB"}, "mark": {"type": "line", "color": "#7f7fe6", "strokeWidth": 1.2, "interpolate": "monotone", "clip": true},
 "encoding": {"x": {"field": "x", "type": "quantitative", "scale": {"domain": [0, 375], "nice": false}, "axis": null},
  "y": {"field": "v", "type": "quantitative", "scale": {"domain": [-240, 153], "nice": false, "zero": false}, "axis": null}}},
{"data": {"name": "ecgB"}, "mark": {"type": "line", "color": "#4cbf4c", "strokeWidth": 1, "interpolate": "monotone", "clip": true},
 "encoding": {"x": {"field": "x", "type": "quantitative", "scale": {"domain": [0, 375], "nice": false}, "axis": null},
  "y": {"field": "v", "type": "quantitative", "scale": {"domain": [-58, 335], "nice": false, "zero": false}, "axis": null}}},
{"data": {"values": [{"line": "T3", "x": 273, "y": 110, "y2": -197}, {"line": "T4", "x": 339, "y": 110, "y2": -197}]}, "mark": {"type": "rule", "color": "#e4502a", "strokeWidth": 3},
 "encoding": {"x": {"field": "x", "type": "quantitative", "scale": {"domain": [0, 375], "nice": false}, "axis": null},
  "y": {"field": "y", "type": "quantitative", "scale": {"domain": [-240, 153], "nice": false, "zero": false}, "axis": null}, "y2": {"field": "y2"}}},
{"data": {"values": [{"label": "T3", "x": 274, "y": 118}, {"label": "T4", "x": 343, "y": 121}]}, "mark": {"type": "text", "font": "Liberation Serif", "fontSize": 20, "fontWeight": "bold", "color": "#000000", "align": "center", "baseline": "alphabetic"},
 "encoding": {"x": {"field": "x", "type": "quantitative", "scale": {"domain": [0, 375], "nice": false}, "axis": null},
  "y": {"field": "y", "type": "quantitative", "scale": {"domain": [-240, 153], "nice": false, "zero": false}, "axis": null}, "text": {"field": "label"}}},
{"data": {"values": [{"label": "MCG", "x": 82, "y": 62}, {"label": "ECG", "x": 83, "y": -107}]}, "mark": {"type": "text", "font": "Liberation Serif", "fontSize": 28, "fontWeight": "bold", "color": "#e42b1c", "align": "center", "baseline": "alphabetic"},
 "encoding": {"x": {"field": "x", "type": "quantitative", "scale": {"domain": [0, 375], "nice": false}, "axis": null},
  "y": {"field": "y", "type": "quantitative", "scale": {"domain": [-240, 153], "nice": false, "zero": false}, "axis": null}, "text": {"field": "label"}}},
{"data": {"values": [{"label": "b", "x": 45, "y": -230}]}, "mark": {"type": "text", "font": "Liberation Serif", "fontSize": 38, "fontWeight": "bold", "fontStyle": "italic", "color": "#000000", "align": "center", "baseline": "alphabetic"},
 "encoding": {"x": {"field": "x", "type": "quantitative", "scale": {"domain": [0, 375], "nice": false}, "axis": null},
  "y": {"field": "y", "type": "quantitative", "scale": {"domain": [-240, 153], "nice": false, "zero": false}, "axis": null}, "text": {"field": "label"}}},
{"data": {"values": [{"label": "MCG[C,4]", "x": 25, "y": 137}, {"label": "TT2", "x": 31, "y": 129}]}, "mark": {"type": "text", "font": "DejaVu Sans", "fontSize": 7, "fontWeight": "bold", "color": "#3030a0", "align": "center", "baseline": "alphabetic"},
 "encoding": {"x": {"field": "x", "type": "quantitative", "scale": {"domain": [0, 375], "nice": false}, "axis": null},
  "y": {"field": "y", "type": "quantitative", "scale": {"domain": [-240, 153], "nice": false, "zero": false}, "axis": null}, "text": {"field": "label"}}},
{"data": {"values": [{"label": "ECG", "x": 16, "y": -61}]}, "mark": {"type": "text", "font": "DejaVu Sans", "fontSize": 6, "color": "#40b040", "align": "center", "baseline": "alphabetic"},
 "encoding": {"x": {"field": "x", "type": "quantitative", "scale": {"domain": [0, 375], "nice": false}, "axis": null},
  "y": {"field": "y", "type": "quantitative", "scale": {"domain": [-240, 153], "nice": false, "zero": false}, "axis": null}, "text": {"field": "label"}}}
]
}
]
}
